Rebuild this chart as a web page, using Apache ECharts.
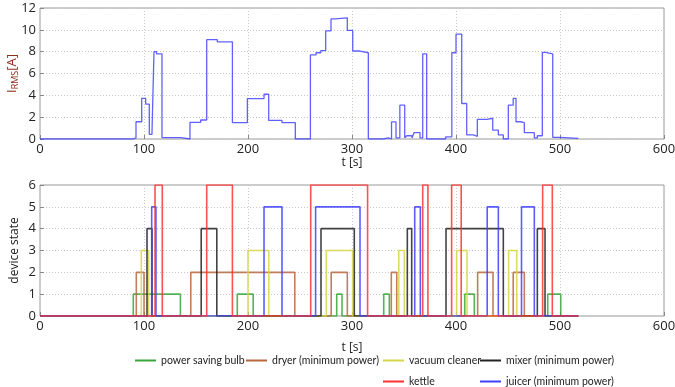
<!DOCTYPE html>
<html>
<head>
<meta charset="utf-8">
<script src="https://cdn.jsdelivr.net/npm/echarts@6/dist/echarts.min.js"></script>
<style>
  html, body { margin: 0; padding: 0; background: #fff; }
  #chart { width: 675px; height: 387px; }
</style>
</head>
<body>
<div id="chart"></div>
<script>
// measured current: times where the value changes [s] and the new value [A]
const currentT = [0, 89.7, 92.3, 97.8, 101.6, 105.1, 107.7, 109.6, 112, 117.3, 135.6, 144.2, 154.5, 160.3, 170.5, 185,
  199.4, 215.4, 219.9, 232.7, 245.5, 260, 265.4, 270, 274.7, 279.8, 284, 295.5, 300.7, 307.7, 315.7,
  330, 335, 338, 342.3, 346, 350.7, 352.6, 357.7, 359.6, 365.4, 368, 371.8, 390, 396, 400, 405.5,
  410.3, 416.7, 420.5, 430, 435.3, 440.7, 445.5, 450.3, 455, 457.7, 462.2, 465.7, 475.3, 478.2, 483,
  485.9, 493, 500, 517.6];
const currentA = [0, 0.1, 1.58, 3.73, 3.2, 0.43, 0.67, 8.0, 7.8, 0.12, 0, 1.53, 1.74, 9.1, 8.9, 1.5,
  3.7, 4.1, 1.7, 1.5, 0, 7.7, 7.9, 8.1, 9.9, 11.0, 11.1, 9.95, 8.06, 7.9, 0,
  0.1, 0, 1.56, 0.1, 3.1, 0.1, 0.3, 0.1, 0.58, 0.1, 7.8, 0, 0.2, 7.9, 9.6, 3.25,
  0.37, 0.25, 1.8, 1.9, 0.82, 0.37, 0, 3.1, 3.73, 1.58, 1.5, 0.58, 0.1, 0.3, 7.94,
  7.8, 0.15, 0.05, 0];

// device on/off intervals [s]
const deviceNames = ['power saving bulb', 'dryer (minimum power)', 'vacuum cleaner',
  'mixer (minimum power)', 'kettle', 'juicer (minimum power)'];
const deviceLevels = [1, 2, 3, 4, 6, 5];
const deviceColors = ['#3aa53a', '#b8673f', '#d6d64a', '#222222', '#ff3333', '#4040ff'];
const bulbOn = [[89.7, 135], [189.7, 205], [285.3, 290.4], [330.5, 335.9], [408.4, 417.6], [488.2, 500.7]];
const dryerOn = [[92.6, 100], [145, 245], [280, 295.5], [337.8, 343], [420.8, 435.6], [455, 465.7]];
const vacuumOn = [[97.4, 104.5], [200, 220], [275.3, 300.6], [345, 350.3], [400.6, 410.6], [450.6, 458.4]];
const mixerOn = [[102.9, 107.7], [155, 170], [270.2, 302.2], [353.2, 357.4], [390.4, 445.5], [478.2, 485.6]];
const kettleOn = [[110.6, 117.6], [160.3, 185], [260.3, 315], [368, 373], [395.8, 405], [483.3, 492.6]];
const juicerOn = [[107.4, 111.5], [215.4, 232.7], [265, 307.7], [360.3, 365.7], [430, 440.7], [463, 475.3]];
const deviceIntervals = [bulbOn, dryerOn, vacuumOn, mixerOn, kettleOn, juicerOn];
const endTime = 517.6;

const xTicks = { min: 0, max: 600, interval: 100 };

function stateSeriesData(intervals, level) {
  const pts = [[0, 0]];
  intervals.forEach(([on, off]) => {
    pts.push([on, level]);
    pts.push([off, 0]);
  });
  pts.push([endTime, 0]);
  return pts;
}

const chart = echarts.init(document.getElementById('chart'), null, { renderer: 'canvas' });

const font = '"Open Sans", "DejaVu Sans", sans-serif';
const gridBorder = '#9a9a9a';

function xAxis(gridIndex, nameGap) {
  return {
    type: 'value',
    gridIndex,
    min: xTicks.min, max: xTicks.max, interval: xTicks.interval,
    name: 't [s]',
    nameLocation: 'middle',
    nameGap,
    nameTextStyle: { fontFamily: font, fontSize: 12, color: '#222' },
    axisLine: { show: false },
    axisTick: { show: true, inside: true, length: 4, lineStyle: { color: '#888' } },
    axisLabel: { fontFamily: font, fontSize: 13, color: '#222', margin: 4 },
    splitLine: { show: true, lineStyle: { type: [1, 2], color: '#c8c8c8' } }
  };
}

function yAxis(gridIndex, max, interval, name, nameGap) {
  return {
    type: 'value',
    gridIndex,
    min: 0, max, interval,
    name,
    nameLocation: 'middle',
    nameGap,
    nameMoveOverlap: false,
    axisLine: { show: false },
    axisTick: { show: true, inside: true, length: 4, lineStyle: { color: '#888' } },
    axisLabel: { fontFamily: font, fontSize: 13, color: '#222', margin: 4 },
    splitLine: { show: true, lineStyle: { type: [1, 2], color: '#c8c8c8' } }
  };
}

const topY = yAxis(0, 12, 2, '{a|I}{s|RMS}{a|[A]}', 20);
topY.nameTextStyle = {
  rich: {
    a: { fontFamily: font, fontSize: 13, color: '#8a2d1c' },
    s: { fontFamily: font, fontSize: 9, color: '#8a2d1c', verticalAlign: 'bottom', padding: [6, 0, 0, 0] }
  }
};
const botY = yAxis(1, 6, 1, 'device state', 19);
botY.nameTextStyle = { fontFamily: font, fontSize: 12, color: '#222' };

// legend layout: two rows like the original figure
const legendPos = [[135, 355], [246, 355], [383, 355], [480, 355], [383, 376], [480, 376]];

const stateSeries = deviceNames.map((name, i) => ({
  name,
  type: 'line',
  xAxisIndex: 1,
  yAxisIndex: 1,
  step: 'end',
  showSymbol: false,
  data: stateSeriesData(deviceIntervals[i], deviceLevels[i]),
  z: name === 'kettle' ? 5 : 2,
  lineStyle: { color: deviceColors[i], width: 1.6, opacity: 0.85 },
  itemStyle: { color: deviceColors[i] }
}));

const option = {
  animation: false,
  grid: [
    { left: 40, right: 11, top: 8, height: 131, show: true, borderColor: gridBorder, borderWidth: 1, outerBoundsMode: 'none' },
    { left: 40, right: 11, top: 185, height: 131, show: true, borderColor: gridBorder, borderWidth: 1, outerBoundsMode: 'none' }
  ],
  xAxis: [xAxis(0, 18), xAxis(1, 26)],
  yAxis: [topY, botY],
  legend: deviceNames.map((name, i) => ({
    data: [name],
    left: legendPos[i][0],
    top: legendPos[i][1],
    padding: 0,
    icon: 'rect',
    itemWidth: 21,
    itemHeight: 2,
    textStyle: { fontFamily: 'Lato, "Open Sans", sans-serif', fontSize: 10.5, color: '#222' },
    selectedMode: false
  })),
  series: [
    {
      name: 'current',
      type: 'line',
      xAxisIndex: 0,
      yAxisIndex: 0,
      step: 'end',
      showSymbol: false,
      data: currentT.map((t, i) => [t, currentA[i]]),
      lineStyle: { color: '#3a3aff', width: 1.3, opacity: 0.8 }
    }
  ].concat(stateSeries)
};

chart.setOption(option);
</script>
</body>
</html>
